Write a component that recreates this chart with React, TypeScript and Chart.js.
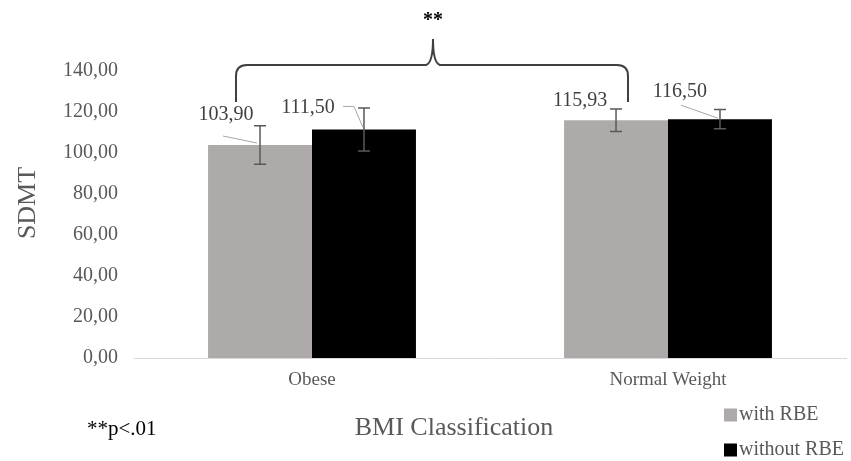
import { useEffect, useRef } from "react";
import { Chart, registerables } from "chart.js";

Chart.register(...registerables);

// ---- data ----
const categories = ["Obese", "Normal Weight"];
const seriesNames = ["with RBE", "without RBE"];
const withRBE = [103.9, 115.93];
const withoutRBE = [111.5, 116.5];
const withRBEError = [9.4, 5.5];
const withoutRBEError = [10.5, 4.7];
const yTicks = [0, 20, 40, 60, 80, 100, 120, 140];
const xTitle = "BMI Classification";
const yTitle = "SDMT";
const significanceMark = "**";
const footnote = "**p<.01";

// ---- styles ----
const FONT = '"Liberation Serif", "Times New Roman", serif';
const GREY_BAR = "#aeaaa9";
const BLACK_BAR = "#000000";
const AXIS_TEXT = "#595959";
const LABEL_TEXT = "#404040";
const ERROR_COLOR = "#595959";
const LEADER_COLOR = "#a6a6a6";

// label placement relative to each bar's top centre: [dx, dy] for text, plus optional leader polyline
type LabelPlacement = { dx: number; dy: number; leader: number[][] };
const labelPlacement: LabelPlacement[][] = [
  [
    { dx: -34, dy: -30, leader: [[-37, -9], [-3, -2]] },
    { dx: -36, dy: -20, leader: [] },
  ],
  [
    { dx: -56, dy: -22, leader: [[-21, -23], [-10, -23], [-1, -2]] },
    { dx: -40, dy: -27, leader: [[-39, -14], [-2, -1]] },
  ],
];

const fmt = (v: number) => v.toFixed(2).replace(".", ",");

const annotations = {
  id: "annotations",
  afterDatasetsDraw(chart: any) {
    const { ctx } = chart;
    const y = chart.scales.y;
    const values = [withRBE, withoutRBE];
    const errors = [withRBEError, withoutRBEError];
    ctx.save();
    values.forEach((series, di) => {
      const meta = chart.getDatasetMeta(di);
      series.forEach((v, i) => {
        const el = meta.data[i];
        const x = el.x;
        // error bar
        const yHi = y.getPixelForValue(v + errors[di][i]);
        const yLo = y.getPixelForValue(v - errors[di][i]);
        ctx.strokeStyle = ERROR_COLOR;
        ctx.lineWidth = 1.5;
        ctx.beginPath();
        ctx.moveTo(x, yHi);
        ctx.lineTo(x, yLo);
        ctx.moveTo(x - 6, yHi);
        ctx.lineTo(x + 6, yHi);
        ctx.moveTo(x - 6, yLo);
        ctx.lineTo(x + 6, yLo);
        ctx.stroke();
        // value label
        const top = y.getPixelForValue(v);
        const p = labelPlacement[di][i];
        if (p.leader.length) {
          ctx.strokeStyle = LEADER_COLOR;
          ctx.lineWidth = 1;
          ctx.beginPath();
          p.leader.forEach(([lx, ly], k) => {
            if (k === 0) ctx.moveTo(x + lx, top + ly);
            else ctx.lineTo(x + lx, top + ly);
          });
          ctx.stroke();
        }
        ctx.fillStyle = LABEL_TEXT;
        ctx.font = `20px ${FONT}`;
        ctx.textAlign = "center";
        ctx.textBaseline = "middle";
        ctx.fillText(fmt(v), x + p.dx, top + p.dy);
      });
    });
    ctx.restore();
  },
  afterDraw(chart: any) {
    const { ctx } = chart;
    ctx.save();
    // significance bracket
    ctx.strokeStyle = "#404040";
    ctx.lineWidth = 2;
    ctx.beginPath();
    ctx.moveTo(236, 102);
    ctx.lineTo(236, 76);
    ctx.quadraticCurveTo(236, 65, 247, 65);
    ctx.lineTo(426, 65);
    ctx.quadraticCurveTo(433, 63, 433, 39);
    ctx.quadraticCurveTo(433, 63, 440, 65);
    ctx.lineTo(617, 65);
    ctx.quadraticCurveTo(628, 65, 628, 76);
    ctx.lineTo(628, 102);
    ctx.stroke();

    ctx.fillStyle = "#000";
    ctx.textAlign = "center";
    ctx.textBaseline = "middle";
    ctx.font = `bold 20px ${FONT}`;
    ctx.fillText(significanceMark, 433, 21);

    // axis titles
    ctx.fillStyle = AXIS_TEXT;
    ctx.font = `26px ${FONT}`;
    ctx.fillText(xTitle, 454, 428);
    ctx.save();
    ctx.translate(28, 203);
    ctx.rotate(-Math.PI / 2);
    ctx.fillText(yTitle, 0, 0);
    ctx.restore();

    // footnote
    ctx.fillStyle = "#000";
    ctx.font = `21px ${FONT}`;
    ctx.textAlign = "left";
    ctx.fillText(footnote, 87, 429);

    // legend
    const colors = [GREY_BAR, BLACK_BAR];
    ctx.font = `20px ${FONT}`;
    seriesNames.forEach((name, i) => {
      const cy = 415 + i * 35;
      ctx.fillStyle = colors[i];
      ctx.fillRect(724, cy - 6.5, 13, 13);
      ctx.fillStyle = AXIS_TEXT;
      ctx.fillText(name, 739, cy);
    });
    ctx.restore();
  },
};

export default function App() {
  const canvasRef = useRef<HTMLCanvasElement | null>(null);

  useEffect(() => {
    if (!canvasRef.current) return;
    const chart = new Chart(canvasRef.current, {
      type: "bar",
      data: {
        labels: categories,
        datasets: [
          {
            label: seriesNames[0],
            data: withRBE,
            backgroundColor: GREY_BAR,
            categoryPercentage: 0.584,
            barPercentage: 1,
          },
          {
            label: seriesNames[1],
            data: withoutRBE,
            backgroundColor: BLACK_BAR,
            categoryPercentage: 0.584,
            barPercentage: 1,
          },
        ],
      },
      options: {
        animation: false,
        responsive: true,
        maintainAspectRatio: false,
        layout: { padding: { top: 71, right: 5, left: 0, bottom: 0 } },
        plugins: {
          legend: { display: false },
          tooltip: { enabled: false },
        },
        scales: {
          x: {
            grid: { display: false, drawTicks: false },
            border: { display: true, color: "#d9d9d9", width: 1 },
            ticks: {
              padding: 11,
              color: AXIS_TEXT,
              font: { family: FONT, size: 19 },
            },
            afterFit: (s: any) => {
              s.height = 103;
            },
          },
          y: {
            min: 0,
            max: 140,
            afterBuildTicks: (s: any) => {
              s.ticks = yTicks.map((v) => ({ value: v }));
            },
            grid: { display: false, drawTicks: false },
            border: { display: false },
            ticks: {
              padding: 16,
              color: AXIS_TEXT,
              font: { family: FONT, size: 20 },
              callback: (v: any) => fmt(Number(v)),
            },
            afterFit: (s: any) => {
              s.width = 134;
            },
          },
        },
      },
      plugins: [annotations],
    });
    return () => chart.destroy();
  }, []);

  return (
    <div
      style={{
        position: "fixed",
        left: 0,
        top: 0,
        width: 851,
        height: 461,
        background: "#fff",
      }}
    >
      <canvas ref={canvasRef} />
    </div>
  );
}
